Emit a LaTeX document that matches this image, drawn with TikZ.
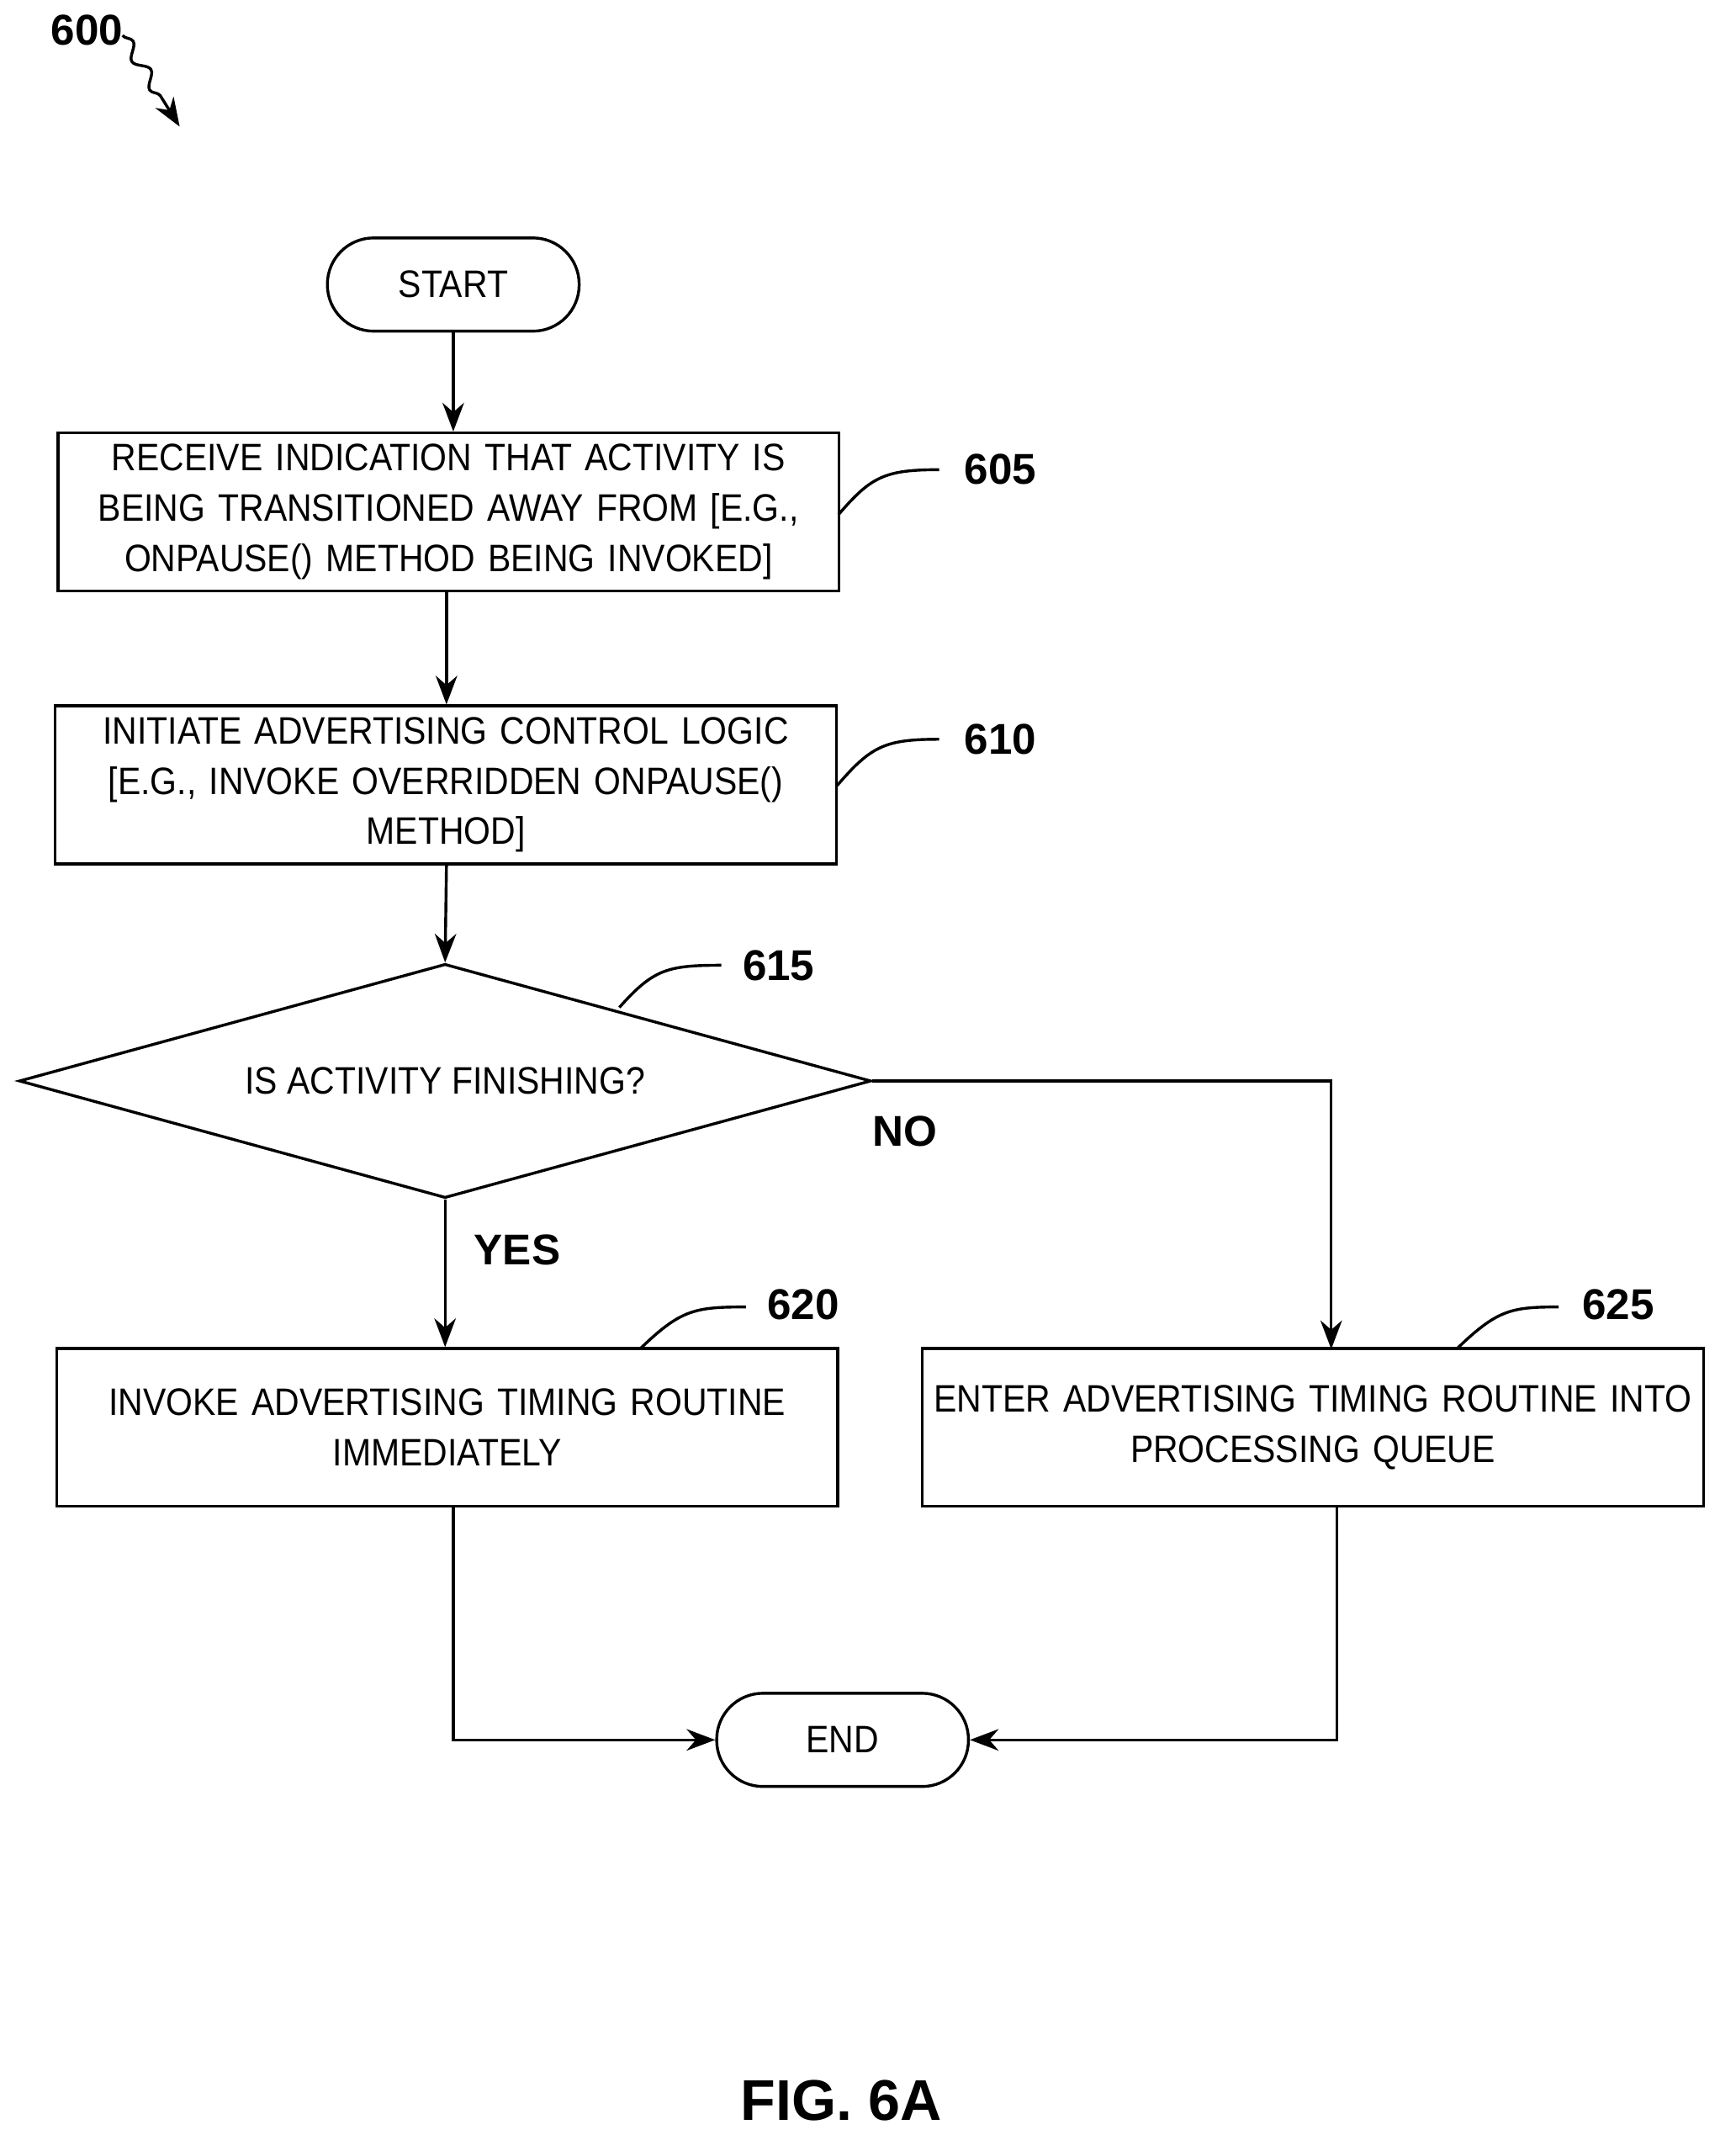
\documentclass[tikz,border=0pt]{standalone}
\usepackage{fontspec}
\setmainfont{Liberation Sans}
\newfontfamily\narrowfont[FakeStretch=0.9]{Liberation Sans}
\usetikzlibrary{shapes.geometric,arrows.meta,decorations.pathmorphing}
\begin{document}
\begin{tikzpicture}[x=0.02cm,y=-0.02cm,
  every node/.style={font=\narrowfont\fontsize{16}{21}\selectfont},
  box/.style={draw,line width=1.2pt,text width=11.3cm,minimum height=2.32cm,align=center,inner sep=0.09cm},
  term/.style={draw,line width=1.2pt,rounded corners=0.68cm,minimum width=3.7cm,minimum height=1.37cm},
  arr/.style={line width=1.2pt,-{Stealth[length=12pt,width=9pt]}},
  ln/.style={line width=1.2pt},
  num/.style={font=\fontsize{18}{21}\selectfont\bfseries}]
\useasboundingbox (0,0) rectangle (1275,1580);
\node[term] (start) at (333,209) {START};
\node[box] (b605) at (329.5,376) {RECEIVE INDICATION THAT ACTIVITY IS\\BEING TRANSITIONED AWAY FROM [E.G.,\\ONPAUSE() METHOD BEING INVOKED]};
\node[box] (b610) at (327.5,576.5) {INITIATE ADVERTISING CONTROL LOGIC\\{}[E.G., INVOKE OVERRIDDEN ONPAUSE()\\METHOD]};
\node[draw,line width=1.2pt,diamond,minimum width=12.52cm,minimum height=3.44cm,inner sep=0pt,aspect=3.64] (d615) at (327,794) {IS ACTIVITY FINISHING?};
\node[box] (b620) at (328.5,1048.5) {INVOKE ADVERTISING TIMING ROUTINE\\IMMEDIATELY};
\node[box] (b625) at (964.5,1048.5) {ENTER ADVERTISING TIMING ROUTINE INTO\\PROCESSING QUEUE};
\node[term] (end) at (619,1278) {END};
\draw[arr] (start.south) -- (start.south |- b605.north);
\draw[arr] (b605.south -| 328,0) -- (b610.north -| 328,0);
\draw[arr] (b610.south -| 328,0) -- (d615.north);
\draw[arr] (d615.south) -- (b620.north -| d615.south);
\draw[arr] (d615.east) -- (978,794) -- (978,991);
\draw[arr] (333,1106) -- (333,1278) -- (end.west);
\draw[arr] (982,1106) -- (982,1278) -- (end.east);
\node[num] at (380,918) {YES};
\node[num] at (665,831) {NO};
\node[num] (n605) at (735,345) {605};
\node[num] (n610) at (735,543) {610};
\node[num] (n615) at (572,709) {615};
\node[num] (n620) at (590,958) {620};
\node[num] (n625) at (1189,958) {625};
\draw[ln] (616,378) .. controls (640,350) and (650,345) .. (690,345);
\draw[ln] (615,577) .. controls (640,548) and (650,543) .. (690,543);
\draw[ln] (455,740) .. controls (480,712) and (490,709) .. (530,709);
\draw[ln] (470,991) .. controls (500,962) and (510,960) .. (548,960);
\draw[ln] (1070,991) .. controls (1100,962) and (1110,960) .. (1145,960);
\node[num] (n600) at (64,22) {600};
\draw[ln,-{Stealth[length=12pt,width=9pt]},decorate,decoration={snake,amplitude=2.5pt,segment length=14pt,post length=10pt}] (90,26) -- (132,93);
\node[font=\fontsize{24}{28}\selectfont\bfseries] (fig) at (618,1543) {FIG. 6A};
\end{tikzpicture}
\end{document}
